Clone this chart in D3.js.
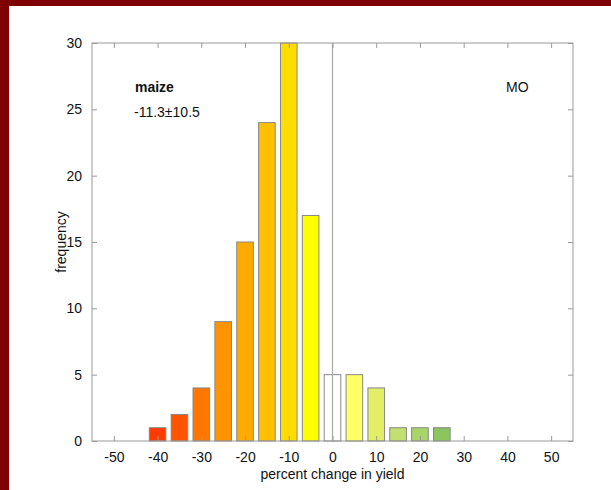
<!DOCTYPE html>
<html><head><meta charset="utf-8">
<script src="https://cdn.jsdelivr.net/npm/d3@7"></script>
<style>body{margin:0;background:#fff;}svg{display:block;}text{font-family:"Liberation Sans",Arial,sans-serif;}</style>
</head><body>
<script>
const binCenters = [-40,-35,-30,-25,-20,-15,-10,-5,0,5,10,15,20,25];
const frequencies = [1,2,4,9,15,24,30,17,5,5,4,1,1,1];
const barColors = ["#ff3a00","#ff5500","#ff7700","#ff9400","#ffaa00","#ffc000","#ffdd00","#ffff00","#ffffff","#ffff66","#e2ee66","#c2e070","#a8d468","#8cc460"];
const xTicks = [-50,-40,-30,-20,-10,0,10,20,30,40,50];
const yTicks = [0,5,10,15,20,25,30];

const W=611,H=490;
const svg=d3.select("body").append("svg").attr("width",W).attr("height",H);
svg.append("rect").attr("width",W).attr("height",H).attr("fill","#fff");
svg.append("rect").attr("x",0).attr("y",0).attr("width",W).attr("height",6).attr("fill","#7f0000");
svg.append("rect").attr("x",0).attr("y",0).attr("width",9).attr("height",H).attr("fill","#7f0000");

const L=92,R=573,T=43,B=441;
const x=d3.scaleLinear().domain([-55,55]).range([L,R]);
const y=d3.scaleLinear().domain([0,30]).range([B,T]);
const bw=3.8;
const axisCol="#999";
const fs="14px";

// bars
svg.append("g").selectAll("rect").data(binCenters).join("rect")
  .attr("x",(d)=>x(d-bw/2)).attr("width",(d)=>x(d+bw/2)-x(d-bw/2))
  .attr("y",(d,i)=>y(frequencies[i])).attr("height",(d,i)=>y(0)-y(frequencies[i]))
  .attr("fill",(d,i)=>barColors[i]).attr("stroke","#888").attr("stroke-width",1);

// zero line
svg.append("line").attr("x1",x(0)).attr("x2",x(0)).attr("y1",T).attr("y2",B).attr("stroke","#aaa").attr("stroke-width",1.2);

// frame
svg.append("rect").attr("x",L).attr("y",T).attr("width",R-L).attr("height",B-T).attr("fill","none").attr("stroke",axisCol).attr("stroke-width",1);

const fmt=d=>String(d);
const gb=svg.append("g").attr("transform",`translate(0,${B})`).call(d3.axisBottom(x).tickValues(xTicks).tickSizeInner(-5).tickSizeOuter(0).tickPadding(11).tickFormat(fmt));
const gt=svg.append("g").attr("transform",`translate(0,${T})`).call(d3.axisTop(x).tickValues(xTicks).tickSizeInner(-5).tickSizeOuter(0).tickFormat(""));
const gl=svg.append("g").attr("transform",`translate(${L},0)`).call(d3.axisLeft(y).tickValues(yTicks).tickSizeInner(-5).tickSizeOuter(0).tickPadding(10).tickFormat(fmt));
const gr=svg.append("g").attr("transform",`translate(${R},0)`).call(d3.axisRight(y).tickValues(yTicks).tickSizeInner(-5).tickSizeOuter(0).tickFormat(""));
[gb,gt,gl,gr].forEach(g=>{g.select(".domain").remove();g.selectAll("line").attr("stroke",axisCol);g.selectAll("text").attr("fill","#111").style("font-size",fs).style("font-family","'Liberation Sans',Arial,sans-serif");});

svg.append("text").attr("x",(L+R)/2).attr("y",479).attr("text-anchor","middle").style("font-size",fs).attr("fill","#111").text("percent change in yield");
svg.append("text").attr("transform",`translate(66,${(T+B)/2}) rotate(-90)`).attr("text-anchor","middle").style("font-size",fs).attr("fill","#111").text("frequency");
svg.append("text").attr("x",135).attr("y",92).style("font-size",fs).style("font-weight","bold").attr("fill","#111").text("maize");
svg.append("text").attr("x",134).attr("y",117).style("font-size",fs).attr("fill","#111").text("-11.3±10.5");
svg.append("text").attr("x",506).attr("y",92).style("font-size",fs).attr("fill","#111").text("MO");
</script>
</body></html>
